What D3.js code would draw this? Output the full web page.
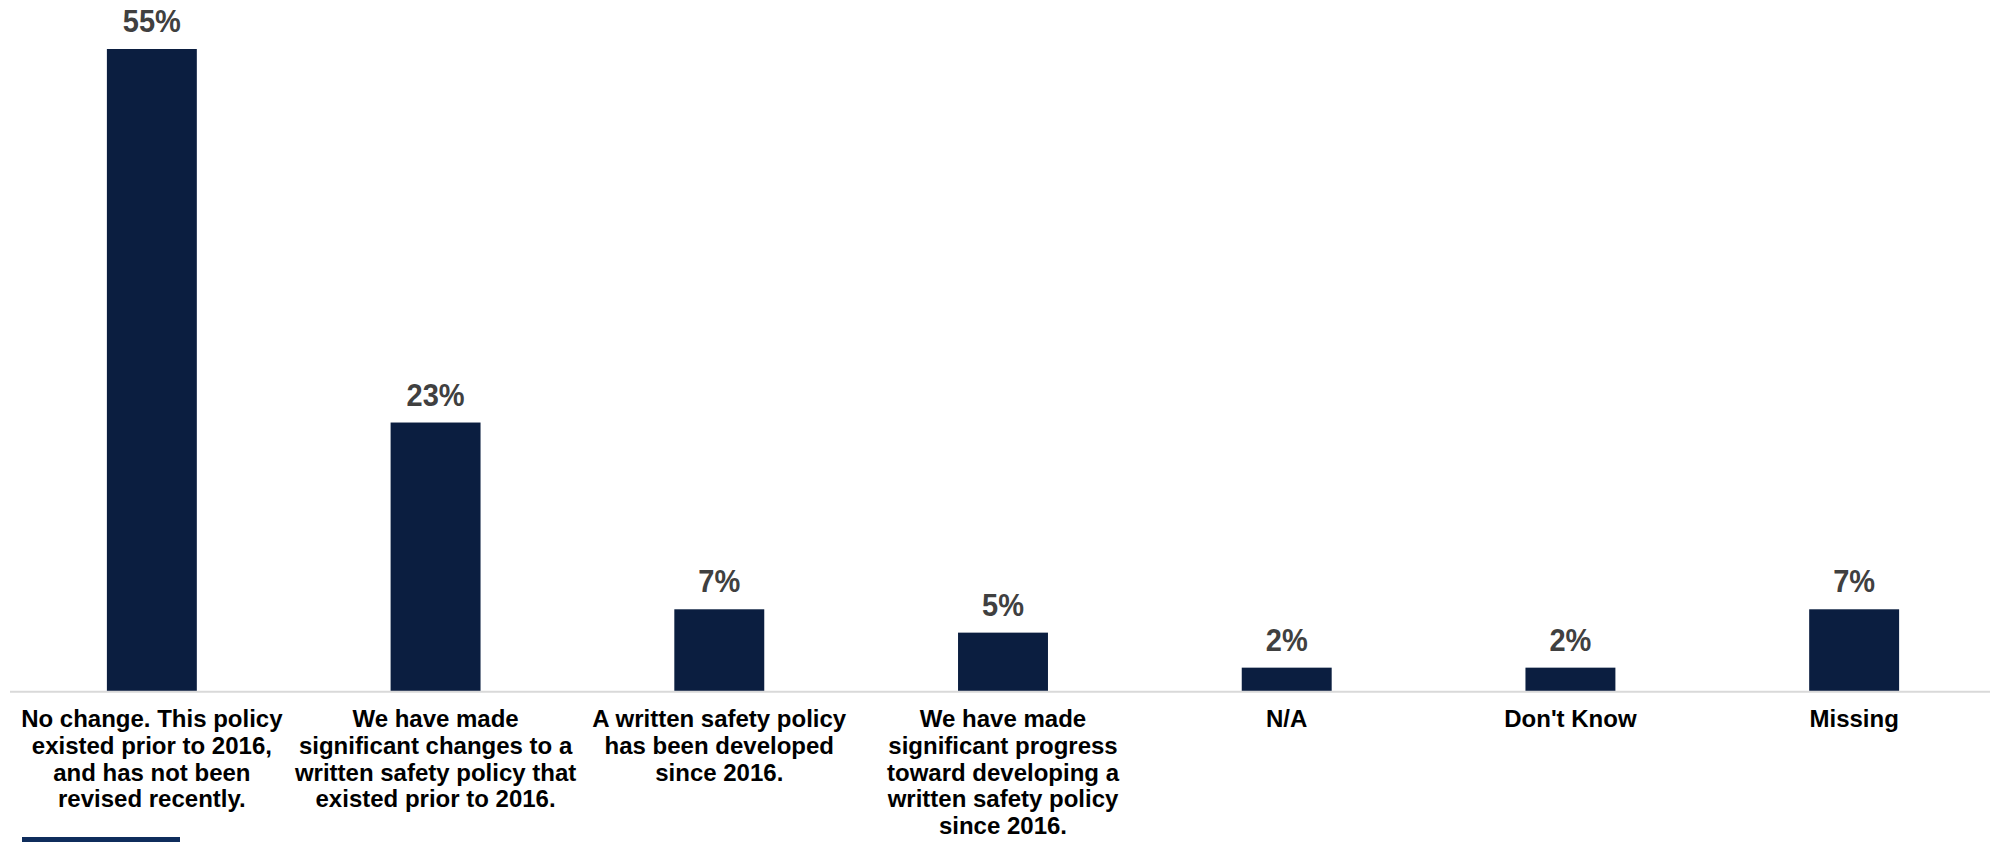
<!DOCTYPE html>
<html>
<head>
<meta charset="utf-8">
<script src="https://cdn.jsdelivr.net/npm/d3@7"></script>
<style>
  html, body { margin: 0; padding: 0; background: #ffffff; }
  svg { display: block; }
</style>
</head>
<body>
<svg id="chart" width="1990" height="842"></svg>
<script>
// Status of the written safety policy since 2016 (share of respondents)
const categories = [
  ["No change. This policy", "existed prior to 2016,", "and has not been", "revised recently."],
  ["We have made", "significant changes to a", "written safety policy that", "existed prior to 2016."],
  ["A written safety policy", "has been developed", "since 2016."],
  ["We have made", "significant progress", "toward developing a", "written safety policy", "since 2016."],
  ["N/A"],
  ["Don't Know"],
  ["Missing"]
];
const values = [55, 23, 7, 5, 2, 2, 7];
const valueLabels = ["55%", "23%", "7%", "5%", "2%", "2%", "7%"];

const W = 1990, H = 842;
const baseY = 691;
const svg = d3.select("#chart");

const keys = categories.map((_, i) => i);
const x = d3.scaleBand()
  .domain(keys)
  .range([10, 1996])
  .paddingInner(0.683)
  .paddingOuter(0.3415);

const y = d3.scaleLinear()
  .domain([0, 55])
  .range([baseY, 49]);

// bars
svg.append("g")
  .selectAll("rect")
  .data(values)
  .join("rect")
  .attr("x", (d, i) => x(i))
  .attr("y", d => y(d))
  .attr("width", x.bandwidth())
  .attr("height", d => y(0) - y(d))
  .attr("fill", "#0b1e40");

// baseline
svg.append("line")
  .attr("x1", 10).attr("x2", W)
  .attr("y1", baseY + 0.8).attr("y2", baseY + 0.8)
  .attr("stroke", "#d9d9d9")
  .attr("stroke-width", 2);

// value labels (slightly tall lettering)
svg.append("g")
  .selectAll("text")
  .data(values)
  .join("text")
  .attr("transform", (d, i) => `translate(${x(i) + x.bandwidth() / 2},${y(d) - 17}) scale(1,1.07)`)
  .attr("text-anchor", "middle")
  .attr("font-family", "'Liberation Sans', Arial, sans-serif")
  .attr("font-weight", "bold")
  .attr("font-size", 29)
  .attr("fill", "#404040")
  .text((d, i) => valueLabels[i]);

// category labels
const catG = svg.append("g");
categories.forEach((lines, i) => {
  const t = catG.append("text")
    .attr("x", x(i) + x.bandwidth() / 2)
    .attr("y", 727)
    .attr("text-anchor", "middle")
    .attr("font-family", "'Liberation Sans', Arial, sans-serif")
    .attr("font-weight", "bold")
    .attr("font-size", 24)
    .attr("fill", "#000000");
  lines.forEach((ln, j) => {
    t.append("tspan")
      .attr("x", x(i) + x.bandwidth() / 2)
      .attr("dy", j === 0 ? 0 : 26.8)
      .text(ln);
  });
});

// footer accent bar
svg.append("rect")
  .attr("x", 22).attr("y", 837)
  .attr("width", 158).attr("height", 8)
  .attr("fill", "#0f2d5c");
</script>
</body>
</html>
